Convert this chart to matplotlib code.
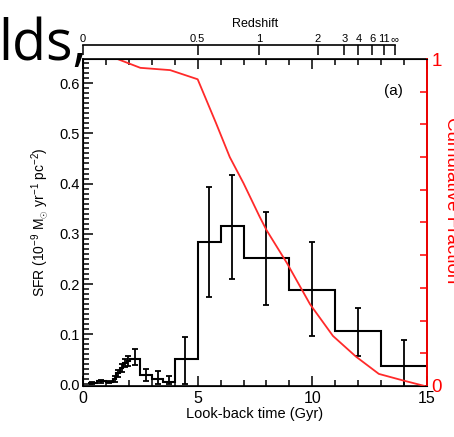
import matplotlib
matplotlib.use('Agg')
import matplotlib.pyplot as plt
from matplotlib.ticker import MultipleLocator, FixedLocator
import numpy as np

# binned star formation history (step histogram)
bin_edges = [0.2, 0.6, 1.0, 1.3, 1.45, 1.6, 1.75, 1.9, 2.05, 2.5, 3.0, 3.5, 4.0,
             5.0, 6.0, 7.0, 9.0, 11.0, 13.0, 15.0]
sfr = [0.002, 0.006, 0.004, 0.010, 0.022, 0.032, 0.042, 0.046, 0.051, 0.019,
       0.011, 0.004, 0.050, 0.284, 0.315, 0.251, 0.188, 0.106, 0.036]

# error bars
err_t = [0.4, 0.8, 1.15, 1.38, 1.52, 1.68, 1.82, 1.97, 2.27, 2.75, 3.25, 3.75,
         4.46, 5.48, 6.5, 8.0, 10.0, 12.0, 14.0]
err_mid = [0.002, 0.006, 0.004, 0.010, 0.022, 0.032, 0.042, 0.046, 0.051, 0.019,
           0.011, 0.004, 0.050, 0.284, 0.315, 0.251, 0.188, 0.106, 0.036]
err_lo = [0.0, 0.003, 0.002, 0.004, 0.015, 0.024, 0.034, 0.036, 0.038, 0.007,
          0.0, 0.0, 0.0, 0.175, 0.210, 0.159, 0.096, 0.057, -0.02]
err_hi = [0.004, 0.009, 0.006, 0.016, 0.029, 0.040, 0.050, 0.056, 0.070, 0.030,
          0.026, 0.017, 0.095, 0.393, 0.418, 0.344, 0.283, 0.152, 0.089]

# cumulative fraction (red curve)
cum_t = [0.0, 1.5, 2.5, 3.8, 5.0, 5.8, 6.4, 7.0, 7.7, 8.0, 8.9, 9.9, 10.9,
         11.9, 12.9, 13.9, 14.9]
cum_frac = [1.0, 1.0, 0.973, 0.966, 0.938, 0.804, 0.70, 0.62, 0.518, 0.477,
            0.375, 0.25, 0.153, 0.09, 0.037, 0.018, 0.0]

# redshift axis
z_labels = ['0', '0.5', '1', '2', '3', '4', '6', '11', r'$\infty$']
z_time = [0.0, 5.0, 7.67, 10.23, 11.39, 12.01, 12.62, 13.13, 13.6]

plt.rcParams['font.family'] = ['Liberation Sans', 'DejaVu Sans']
plt.rcParams['mathtext.fontset'] = 'custom'
plt.rcParams['mathtext.rm'] = 'Liberation Sans'
plt.rcParams['mathtext.it'] = 'Liberation Sans'

W, H = 454, 437
fig = plt.figure(figsize=(W / 100, H / 100), dpi=100)

def box(x0, y0, x1, y1):
    return [x0 / W, 1 - y1 / H, (x1 - x0) / W, (y1 - y0) / H]

ax = fig.add_axes(box(83, 59, 427, 386))
ax.stairs(sfr, bin_edges, baseline=None, color='black', lw=1.5)
yerr = [np.array(err_mid) - np.array(err_lo), np.array(err_hi) - np.array(err_mid)]
ax.errorbar(err_t, err_mid, yerr=yerr, fmt='none', ecolor='black',
            elinewidth=1.3, capsize=2.5, capthick=1.3)
ax.set_xlim(0, 15)
ax.set_ylim(-0.003, 0.648)
ax.xaxis.set_major_locator(FixedLocator([0, 5, 10, 15]))
ax.xaxis.set_minor_locator(MultipleLocator(1))
ax.yaxis.set_major_locator(MultipleLocator(0.1))
ax.yaxis.set_minor_locator(MultipleLocator(0.01))
ax.tick_params(which='both', direction='in', top=True, right=False, width=1.1)
ax.tick_params(which='major', length=7, labelsize=11.5)
ax.tick_params(which='minor', length=4)
ax.tick_params(axis='y', labelsize=10.5, pad=2)
ax.set_yticks(np.arange(0, 0.61, 0.1))
ax.set_yticklabels(['0.0', '0.1', '0.2', '0.3', '0.4', '0.5', '0.6'])
for s in ax.spines.values():
    s.set_linewidth(1.2)
ax.set_xlabel('Look-back time (Gyr)', fontsize=10.5, labelpad=1)
ax.set_ylabel(r'SFR (10$^{-9}$ M$_{\odot}$ yr$^{-1}$ pc$^{-2}$)', fontsize=10,
              labelpad=6)
ax.text(0.93, 0.89, '(a)', transform=ax.transAxes, ha='right', fontsize=11)

# cumulative fraction on right axis
ax2 = ax.twinx()
ax2.plot(cum_t, cum_frac, color='#ff2a2a', lw=1.3)
ax2.set_ylim(0, 1)
ax2.set_yticks([0, 1])
ax2.set_yticklabels(['0', '1'])
ax2.yaxis.set_minor_locator(MultipleLocator(0.1))
ax2.tick_params(axis='y', which='both', direction='in', colors='red',
                labelsize=13.5, width=1.1)
ax2.tick_params(axis='y', which='major', length=0, pad=3)
ax2.tick_params(axis='y', which='minor', length=5)
ax2.spines['right'].set_color('red')
ax2.spines['right'].set_linewidth(1.3)
fig.text(443 / W, 1 - 200 / H, 'Cumulative Fraction', rotation=-90,
         color='red', fontsize=13.5, ha='left', va='center')

# redshift axis on top
axz = fig.add_axes(box(83, 45, 427, 55))
axz.patch.set_visible(False)
for k in ['left', 'right', 'bottom']:
    axz.spines[k].set_visible(False)
axz.spines['top'].set_linewidth(1.2)
axz.spines['top'].set_bounds(0, 13.6)
axz.set_xlim(0, 15)
axz.set_yticks([])
axz.set_xticks(z_time)
axz.set_xticklabels(z_labels)
axz.tick_params(axis='x', direction='in', length=7, width=1.1, top=True,
                bottom=False, labeltop=True, labelbottom=False, labelsize=8,
                pad=1)
axz.set_title('Redshift', fontsize=9, pad=13)

# slide text fragment
fig.text(-0.003, 1 - 60 / H, 'lds,', fontsize=40, family='Open Sans',
         ha='left', va='baseline')

fig.savefig('out.png', dpi=100)
